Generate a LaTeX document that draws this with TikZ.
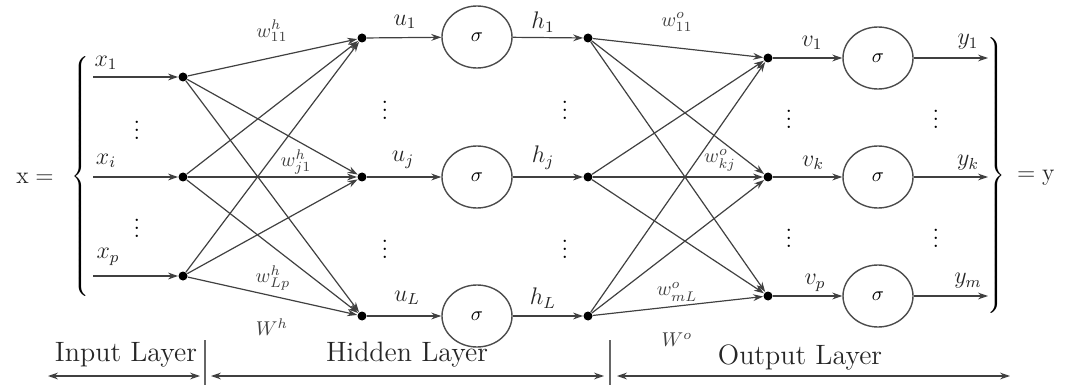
\documentclass[tikz,border=0pt]{standalone}
\usetikzlibrary{arrows.meta,shapes.geometric}
\begin{document}
\begin{tikzpicture}[x=0.5pt,y=-0.5pt,
  conn/.style={draw=black!75, line width=0.6pt, -{Stealth[length=5pt,width=3.4pt]}},
  dot/.style={circle, fill=black, inner sep=0pt, minimum size=4.5pt},
  neuron/.style={ellipse, draw=black!70, line width=0.7pt, minimum width=35pt, minimum height=31pt, inner sep=0pt, font=\fontsize{10}{12}\selectfont},
  lbl/.style={font=\fontsize{12}{14}\selectfont, text=black!85, inner sep=0pt},
  wlbl/.style={font=\fontsize{10}{12}\selectfont, text=black!75, inner sep=0pt},
  layer/.style={font=\fontsize{14}{16}\selectfont, text=black!85, inner sep=0pt},
  vd/.style={font=\fontsize{12}{14}\selectfont, inner sep=0pt},
  span/.style={draw=black!75, line width=0.7pt, {Stealth[length=5pt,width=3.4pt]}-{Stealth[length=5pt,width=3.4pt]}},
  tick/.style={draw=black!60, line width=0.6pt}
]
\useasboundingbox (0,0) rectangle (1066,385);

% braces and x =, = y
\node[lbl] (xeq) at (35,178) {$\mathrm{x} =$};
\node[inner sep=0pt] (lbr) at (82,177) {$\left\{\vrule height 60pt depth 58pt width 0pt\right.$};
\node[inner sep=0pt] (rbr) at (995,177) {$\left.\vrule height 70pt depth 68pt width 0pt\right\}$};
\node[lbl] (yeq) at (1036,178) {$= \mathrm{y}$};

% input
\coordinate (xs1) at (93,77);
\coordinate (xs2) at (93,177);
\coordinate (xs3) at (93,276);
\node[dot] (in1) at (183,77) {};
\node[dot] (in2) at (183,177) {};
\node[dot] (in3) at (183,276) {};
\node[lbl] (lx1) at (106,63) {$x_1$};
\node[lbl] (lx2) at (106,161) {$x_i$};
\node[lbl] (lx3) at (108,257) {$x_p$};
\node[vd] (vi1) at (137,124) {$\vdots$};
\node[vd] (vi2) at (137,222) {$\vdots$};

% hidden
\node[dot] (hd1) at (362,38) {};
\node[dot] (hd2) at (362,177) {};
\node[dot] (hd3) at (362,316) {};
\node[neuron] (hc1) at (477,37) {$\sigma$};
\node[neuron] (hc2) at (477,177) {$\sigma$};
\node[neuron] (hc3) at (477,316) {$\sigma$};
\node[dot] (ho1) at (588,38) {};
\node[dot] (ho2) at (588,177) {};
\node[dot] (ho3) at (588,316) {};
\node[lbl] (lu1) at (405,22) {$u_1$};
\node[lbl] (lu2) at (403,160) {$u_j$};
\node[lbl] (lu3) at (407,298) {$u_L$};
\node[lbl] (lh1) at (543,22) {$h_1$};
\node[lbl] (lh2) at (543,158) {$h_j$};
\node[lbl] (lh3) at (543,298) {$h_L$};
\node[vd] (vu1) at (385,104) {$\vdots$};
\node[vd] (vu2) at (385,243) {$\vdots$};
\node[vd] (vh1) at (565,104) {$\vdots$};
\node[vd] (vh2) at (565,243) {$\vdots$};

% output
\node[dot] (od1) at (768,58) {};
\node[dot] (od2) at (768,177) {};
\node[dot] (od3) at (768,296) {};
\node[neuron] (oc1) at (878,58) {$\sigma$};
\node[neuron] (oc2) at (878,177) {$\sigma$};
\node[neuron] (oc3) at (878,296) {$\sigma$};
\coordinate (ye1) at (988,58);
\coordinate (ye2) at (988,177);
\coordinate (ye3) at (988,296);
\node[lbl] (lv1) at (812,43) {$v_1$};
\node[lbl] (lv2) at (813,163) {$v_k$};
\node[lbl] (lv3) at (815,283) {$v_p$};
\node[lbl] (ly1) at (968,42) {$y_1$};
\node[lbl] (ly2) at (968,163) {$y_k$};
\node[lbl] (ly3) at (968,281) {$y_m$};
\node[vd] (vv1) at (789,113) {$\vdots$};
\node[vd] (vv2) at (789,232) {$\vdots$};
\node[vd] (vy1) at (936,113) {$\vdots$};
\node[vd] (vy2) at (936,232) {$\vdots$};

% weight labels
\node[wlbl] (w1) at (272,31) {$w^h_{11}$};
\node[wlbl] (w2) at (296,162) {$w^h_{j1}$};
\node[wlbl] (w3) at (273,278) {$w^h_{Lp}$};
\node[wlbl] (W1) at (272,327) {$W^h$};
\node[wlbl] (w4) at (677,22) {$w^o_{11}$};
\node[wlbl] (w5) at (720,160) {$w^o_{kj}$};
\node[wlbl] (w6) at (677,292) {$w^o_{mL}$};
\node[wlbl] (W2) at (677,340) {$W^o$};

% connections
\foreach \i in {1,2,3} {
  \draw[conn] (xs\i) -- (in\i);
  \draw[conn] (hd\i) -- (hc\i);
  \draw[conn] (hc\i) -- (ho\i);
  \draw[conn] (od\i) -- (oc\i);
  \draw[conn] (oc\i) -- (ye\i);
  \foreach \j in {1,2,3} {
    \draw[conn] (in\i) -- (hd\j);
    \draw[conn] (ho\i) -- (od\j);
  }
}

% layer spans
\node[layer] (L1) at (126,355) {Input Layer};
\node[layer] (L2) at (407,355) {Hidden Layer};
\node[layer] (L3) at (800,357) {Output Layer};
\coordinate (t1a) at (205,340);
\coordinate (t1b) at (205,385);
\coordinate (t2a) at (610,340);
\coordinate (t2b) at (610,385);
\draw[tick] (t1a) -- (t1b);
\draw[tick] (t2a) -- (t2b);
\coordinate (s1a) at (48,376);
\coordinate (s1b) at (200,376);
\coordinate (s2a) at (211,376);
\coordinate (s2b) at (604,376);
\coordinate (s3a) at (617,376);
\coordinate (s3b) at (1010,376);
\draw[span] (s1a) -- (s1b);
\draw[span] (s2a) -- (s2b);
\draw[span] (s3a) -- (s3b);
\end{tikzpicture}
\end{document}
